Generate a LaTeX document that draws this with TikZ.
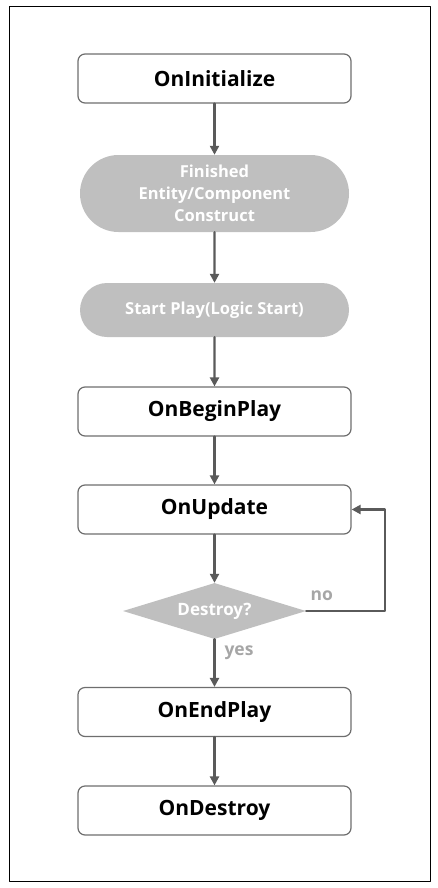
\documentclass[tikz,border=0pt]{standalone}
\usepackage{fontspec}
\setmainfont{Open Sans}[BoldFont={Open Sans Bold}]
\usetikzlibrary{shapes.geometric,shapes.misc,arrows.meta}
\definecolor{boxline}{HTML}{6E6E6E}
\definecolor{flowline}{HTML}{5A5A5A}
\definecolor{phasegray}{HTML}{BFBFBF}
\definecolor{notegray}{HTML}{A6A6A6}

\begin{document}
\begin{tikzpicture}[x=1pt,y=-1pt,>={Triangle[length=9pt,width=9pt]},line cap=round,line join=round]
\tikzset{
  stage/.style={draw=boxline,line width=1.2pt,rounded corners=7pt,fill=white,minimum width=273pt,minimum height=49pt,font=\bfseries\fontsize{21}{24}\selectfont},
  phase/.style={rounded rectangle,fill=phasegray,minimum width=273pt,inner sep=2pt,text=white,align=center,font=\bfseries\fontsize{16.5}{22}\selectfont},
  check/.style={diamond,fill=phasegray,minimum width=183pt,minimum height=56pt,inner sep=0pt},
  checktext/.style={text=white,font=\bfseries\fontsize{17}{20}\selectfont},
  flow/.style={draw=flowline,line width=2.4pt,->},
  note/.style={text=notegray,font=\bfseries\fontsize{17.5}{20}\selectfont}
}
\useasboundingbox (0,0) rectangle (437,888);
\draw[line width=1pt] (9,7) rectangle (430,881);
% main sequence
\node[stage] (init) at (214.5,78.5) {OnInitialize};
\node[phase,minimum height=77pt] (built) at (214.5,193.5) {Finished\\Entity/Component\\Construct};
\node[phase,minimum height=54pt] (start) at (214.5,310) {Start Play(Logic Start)};
\node[stage] (begin) at (214.5,411.5) {OnBeginPlay};
\node[stage] (update) at (214.5,509.5) {OnUpdate};
\node[check,label={[checktext]center:Destroy?}] (destroy) at (214.5,611) {};
\node[stage] (endp) at (214.5,712) {OnEndPlay};
\node[stage] (final) at (214.5,810.5) {OnDestroy};
\draw[flow] (init) -- (built);
\draw[flow] (built) -- (start);
\draw[flow] (start) -- (begin);
\draw[flow] (begin) -- (update);
\draw[flow] (update) -- (destroy);
\draw[flow] (destroy) -- (endp);
\draw[flow] (endp) -- (final);
% loop back
\draw[flow] (destroy.east) -- ++(79,0) |- (update.east);
\node[note,anchor=south west] at (307,604) {no};
\node[note,anchor=west] at (221,653) {yes};
\end{tikzpicture}
\end{document}
